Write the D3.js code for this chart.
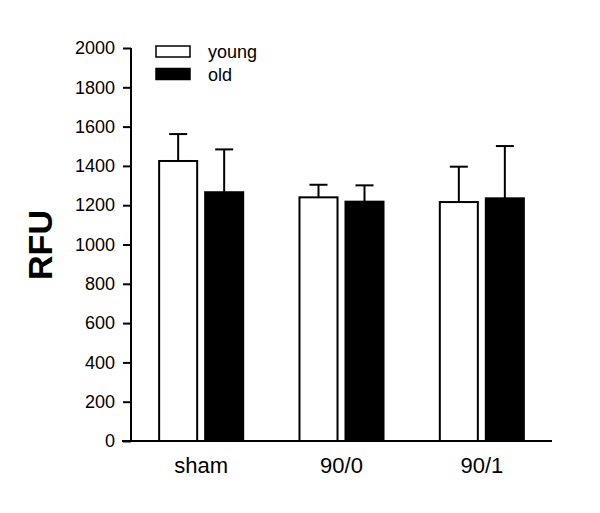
<!DOCTYPE html>
<html>
<head>
  <meta charset="utf-8">
  <script src="https://d3js.org/d3.v7.min.js"></script>
  <style>
    body { margin: 0; background: #fff; }
    text { font-family: "Liberation Sans", Arial, sans-serif; fill: #000; }
  </style>
</head>
<body>
<div id="chart"></div>
<script>
  // data
  var groups = ["sham", "90/0", "90/1"];
  var series = ["young", "old"];
  var means = {
    young: [1425, 1240, 1216],
    old: [1266, 1218, 1235]
  };
  var errors = {
    young: [137, 64, 180],
    old: [218, 83, 266]
  };
  var yTicks = [0, 200, 400, 600, 800, 1000, 1200, 1400, 1600, 1800, 2000];
  var colors = { young: "#fff", old: "#000" };

  var width = 600, height = 513;

  var svg = d3.select("#chart").append("svg")
    .attr("width", width)
    .attr("height", height);

  var y = d3.scaleLinear().domain([0, 2000]).range([441, 48]);

  var x0 = d3.scaleBand().domain(groups).range([131, 552]).padding(0);
  var x1 = d3.scaleBand().domain(series).range([0, x0.bandwidth()])
    .paddingInner(0.13).paddingOuter(0.59);

  // bars
  var rows = [];
  groups.forEach(function (g, i) {
    series.forEach(function (s) {
      rows.push({ group: g, series: s, mean: means[s][i], err: errors[s][i] });
    });
  });

  var bar = svg.append("g").selectAll("g")
    .data(rows)
    .enter().append("g");

  // error bars (upper only), drawn first so the bar covers the stem
  bar.append("line")
    .attr("x1", function (d) { return x0(d.group) + x1(d.series) + x1.bandwidth() / 2; })
    .attr("x2", function (d) { return x0(d.group) + x1(d.series) + x1.bandwidth() / 2; })
    .attr("y1", function (d) { return y(d.mean); })
    .attr("y2", function (d) { return y(d.mean + d.err); })
    .attr("stroke", "#000")
    .attr("stroke-width", 2);

  bar.append("line")
    .attr("x1", function (d) { return x0(d.group) + x1(d.series) + x1.bandwidth() / 2 - 9; })
    .attr("x2", function (d) { return x0(d.group) + x1(d.series) + x1.bandwidth() / 2 + 9; })
    .attr("y1", function (d) { return y(d.mean + d.err); })
    .attr("y2", function (d) { return y(d.mean + d.err); })
    .attr("stroke", "#000")
    .attr("stroke-width", 2);

  bar.append("rect")
    .attr("x", function (d) { return x0(d.group) + x1(d.series) + 1; })
    .attr("width", x1.bandwidth() - 2)
    .attr("y", function (d) { return y(d.mean); })
    .attr("height", function (d) { return y(0) - y(d.mean); })
    .attr("fill", function (d) { return colors[d.series]; })
    .attr("stroke", "#000")
    .attr("stroke-width", 2);

  // y axis
  var yAxis = svg.append("g")
    .attr("transform", "translate(131,0)")
    .call(d3.axisLeft(y).tickValues(yTicks).tickSize(8).tickPadding(8).tickFormat(d3.format("d")));
  yAxis.select(".domain").attr("stroke-width", 2).attr("d", "M0," + y(2000) + "V" + y(0));
  yAxis.selectAll(".tick line").attr("stroke-width", 2);
  yAxis.selectAll("text").style("font-size", "18px");

  // x axis
  var xAxis = svg.append("g")
    .attr("transform", "translate(0,441)")
    .call(d3.axisBottom(x0).tickSize(0).tickPadding(16));
  xAxis.select(".domain").attr("stroke-width", 2).attr("d", "M122,0H552");
  xAxis.selectAll("text").style("font-size", "22px");

  // y label
  svg.append("text")
    .attr("transform", "translate(52,245) rotate(-90)")
    .attr("text-anchor", "middle")
    .style("font-size", "34px")
    .style("font-weight", "bold")
    .text("RFU");

  // legend
  var legend = svg.append("g").selectAll("g")
    .data(series)
    .enter().append("g")
    .attr("transform", function (d, i) { return "translate(156," + (46 + i * 22.5) + ")"; });

  legend.append("rect")
    .attr("width", 34)
    .attr("height", 11)
    .attr("fill", function (d) { return colors[d]; })
    .attr("stroke", "#000")
    .attr("stroke-width", 1.5);

  legend.append("text")
    .attr("x", 52)
    .attr("y", 12)
    .style("font-size", "18px")
    .text(function (d) { return d; });
</script>
</body>
</html>
